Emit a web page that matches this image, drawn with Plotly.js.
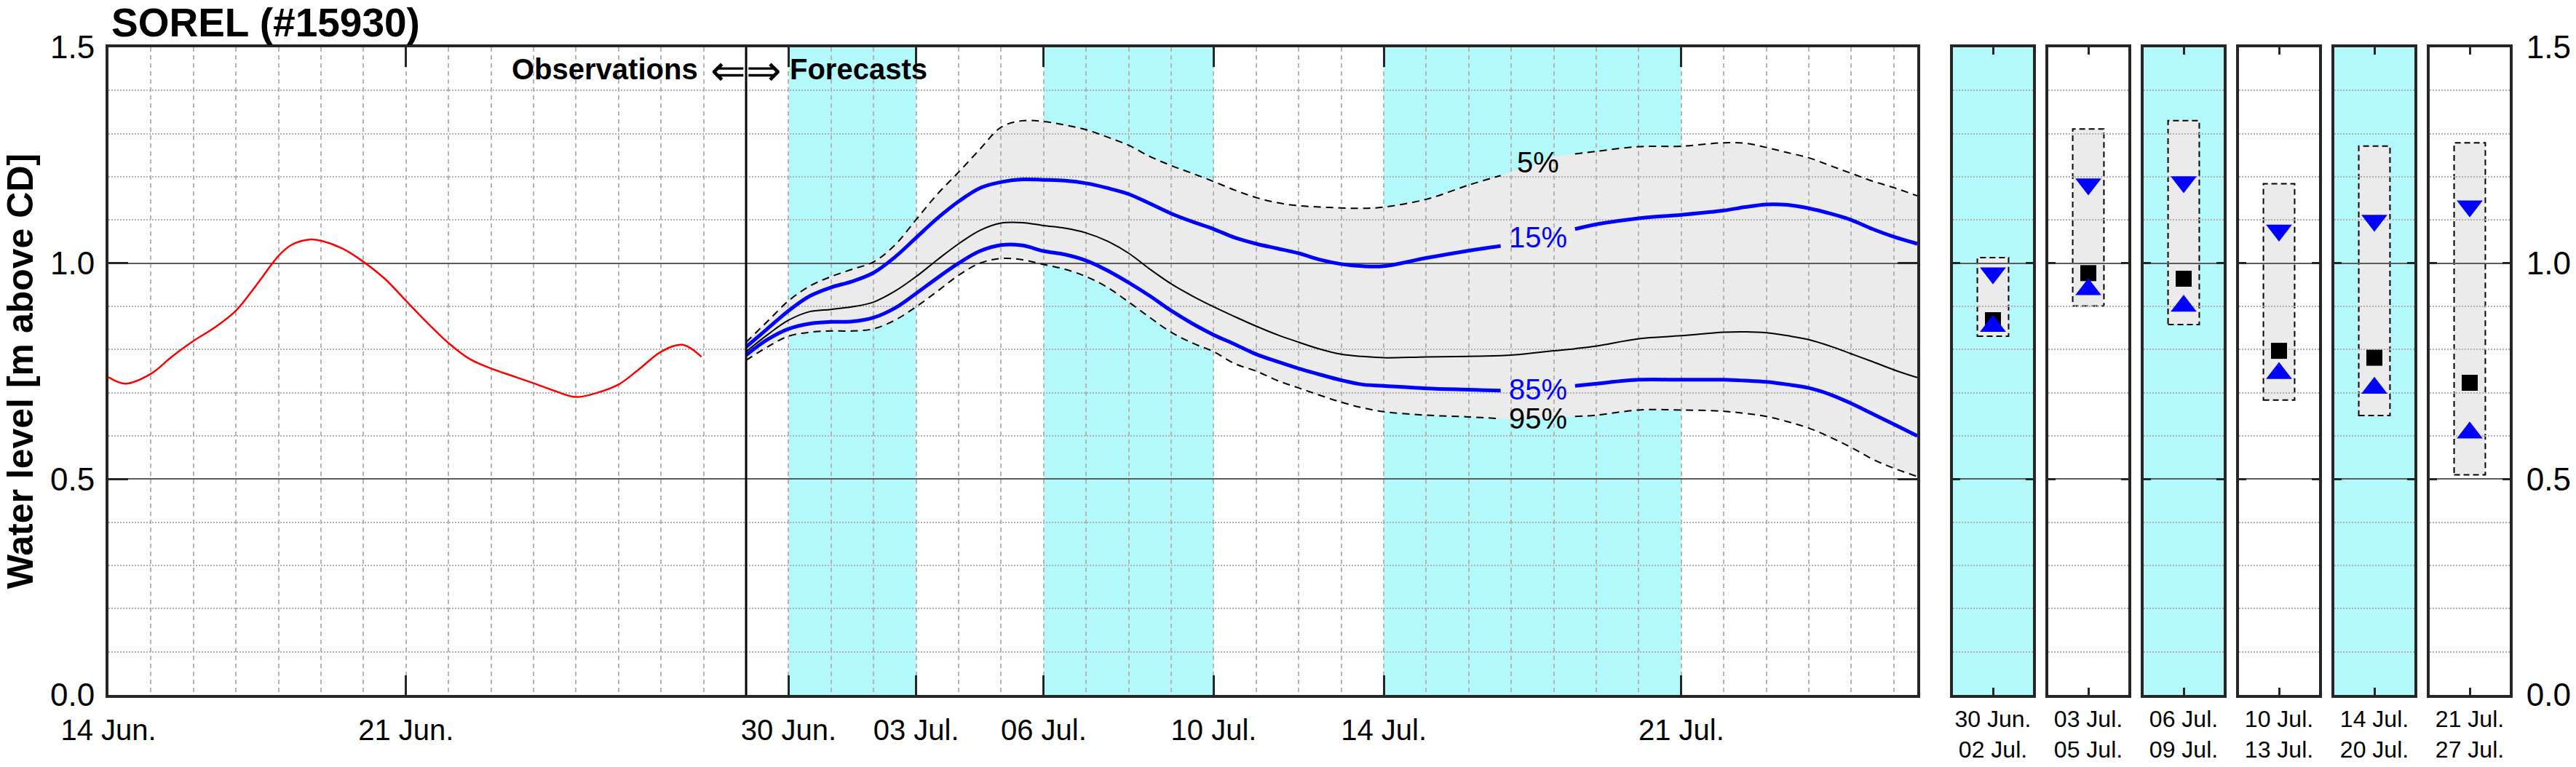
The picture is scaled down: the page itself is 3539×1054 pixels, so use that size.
<!DOCTYPE html>
<html>
<head>
<meta charset="utf-8">
<script src="https://cdn.plot.ly/plotly-3.0.1.min.js"></script>
<style>
  html, body { margin: 0; padding: 0; background: #fff; }
  #chart { width: 3539px; height: 1054px; }
</style>
</head>
<body>
<div id="chart"></div>
<script>
// time is counted in days from 14 Jun. 00:00
const obsDay = [0, 0.4, 1, 1.5, 2, 2.5, 3, 3.5, 4, 4.3, 4.75, 5, 5.5, 6, 6.5, 7, 7.5, 8, 8.5, 9,
                9.5, 10, 10.5, 11, 11.5, 12, 12.5, 13, 13.5, 13.95];
const obsLevel = [0.736, 0.721, 0.744, 0.784, 0.820, 0.851, 0.890, 0.952, 1.017, 1.042, 1.055, 1.052, 1.034, 1.003, 0.964, 0.913, 0.862, 0.815, 0.778, 0.756,
                  0.739, 0.722, 0.704, 0.690, 0.700, 0.719, 0.756, 0.795, 0.811, 0.783];

const fcDay = [15, 15.5, 16, 16.5, 17, 17.5, 18, 18.5, 19, 19.5,
               20, 20.5, 21, 21.5, 22, 22.5, 23, 23.5, 24, 24.5,
               25, 25.5, 26, 26.5, 27, 27.5, 28, 28.5, 29, 29.5,
               30, 31, 32, 32.75, 33, 34, 34.5, 35, 36, 37, 38,
               38.5, 39, 39.5, 40, 40.5, 41, 41.5, 42, 42.55];
const q05 = [0.817, 0.865, 0.913, 0.947, 0.969, 0.986, 1.003, 1.042, 1.101, 1.160,
             1.211, 1.264, 1.315, 1.330, 1.328, 1.320, 1.309, 1.292, 1.273, 1.247,
             1.226, 1.208, 1.189, 1.169, 1.152, 1.140, 1.133, 1.130, 1.128, 1.127,
             1.130, 1.148, 1.181, 1.203, 1.211, 1.247, 1.253, 1.259, 1.270, 1.271, 1.279,
             1.278, 1.268, 1.256, 1.244, 1.226, 1.208, 1.190, 1.175, 1.156];
const q15 = [0.806, 0.848, 0.890, 0.924, 0.944, 0.958, 0.978, 1.014, 1.059, 1.104,
             1.143, 1.174, 1.188, 1.194, 1.193, 1.191, 1.185, 1.174, 1.160, 1.138,
             1.115, 1.096, 1.079, 1.059, 1.045, 1.034, 1.023, 1.008, 0.998, 0.993,
             0.993, 1.012, 1.029, 1.040, 1.045, 1.068, 1.079, 1.090, 1.104, 1.112, 1.122,
             1.130, 1.136, 1.135, 1.127, 1.115, 1.100, 1.079, 1.061, 1.045];
const q50 = [0.795, 0.834, 0.868, 0.888, 0.893, 0.899, 0.910, 0.935, 0.969, 1.008,
             1.045, 1.076, 1.093, 1.094, 1.087, 1.081, 1.070, 1.051, 1.023, 0.986,
             0.952, 0.924, 0.899, 0.876, 0.854, 0.834, 0.817, 0.801, 0.789, 0.784,
             0.781, 0.783, 0.784, 0.786, 0.787, 0.797, 0.802, 0.808, 0.825, 0.832, 0.840,
             0.841, 0.839, 0.832, 0.823, 0.808, 0.790, 0.772, 0.753, 0.735];
const q85 = [0.787, 0.823, 0.848, 0.860, 0.864, 0.865, 0.874, 0.896, 0.930, 0.966,
             1.000, 1.028, 1.042, 1.041, 1.028, 1.020, 1.006, 0.983, 0.955, 0.924,
             0.890, 0.860, 0.834, 0.812, 0.789, 0.772, 0.756, 0.742, 0.729, 0.719,
             0.716, 0.710, 0.707, 0.705, 0.704, 0.711, 0.716, 0.721, 0.730, 0.730, 0.730,
             0.728, 0.725, 0.719, 0.711, 0.696, 0.675, 0.651, 0.627, 0.600];
const q95 = [0.775, 0.806, 0.831, 0.840, 0.843, 0.843, 0.848, 0.868, 0.899, 0.935,
             0.972, 1.000, 1.011, 1.008, 0.997, 0.986, 0.969, 0.944, 0.910, 0.874,
             0.840, 0.815, 0.795, 0.767, 0.750, 0.728, 0.711, 0.694, 0.678, 0.665,
             0.656, 0.648, 0.644, 0.640, 0.639, 0.642, 0.645, 0.648, 0.660, 0.660, 0.657,
             0.652, 0.645, 0.633, 0.618, 0.597, 0.573, 0.546, 0.525, 0.506];

const tickDay = [0, 7, 16, 19, 22, 26, 30, 37];
const tickText = ['14 Jun.', '21 Jun.', '30 Jun.', '03 Jul.', '06 Jul.', '10 Jul.', '14 Jul.', '21 Jul.'];
const bandStart = [16, 22, 30];
const bandEnd = [19, 26, 37];

const periodStart = ['30 Jun.', '03 Jul.', '06 Jul.', '10 Jul.', '14 Jul.', '21 Jul.'];
const periodEnd = ['02 Jul.', '05 Jul.', '09 Jul.', '13 Jul.', '20 Jul.', '27 Jul.'];
const periodShaded = [true, false, true, false, true, false];
const pQ05 = [1.013, 1.311, 1.330, 1.184, 1.271, 1.279];
const pQ15 = [0.977, 1.183, 1.188, 1.076, 1.099, 1.132];
const pQ50 = [0.868, 0.977, 0.964, 0.797, 0.781, 0.723];
const pQ85 = [0.854, 0.939, 0.901, 0.745, 0.711, 0.607];
const pQ95 = [0.831, 0.901, 0.858, 0.683, 0.647, 0.510];

const yTicks = [0, 0.5, 1.0, 1.5];

const W = 3539, H = 1054;
const FONT = 'Liberation Sans, Arial, Helvetica, sans-serif';
const INK = '#262626';
const CYAN = '#b3f8fa';
const BAND = '#ebebeb';
const BLUE = '#0000ff';
const px = v => v / W;

// label gap on the percentile lines
const gapLo = 32.75, gapHi = 34.5, labelDay = 33.63;
const withGap = vals => vals.map((v, i) => (fcDay[i] > gapLo && fcDay[i] < gapHi) ? null : v);
function valueAt(vals, d) {
    for (let i = 1; i < fcDay.length; i++) {
        if (fcDay[i] >= d) {
            const t = (d - fcDay[i - 1]) / (fcDay[i] - fcDay[i - 1]);
            return vals[i - 1] + t * (vals[i] - vals[i - 1]);
        }
    }
    return vals[vals.length - 1];
}

const traces = [
    {x: obsDay, y: obsLevel, mode: 'lines', line: {color: '#ff0000', width: 2.5, shape: 'spline'}},
    {x: fcDay, y: withGap(q05), mode: 'lines', line: {color: '#000', width: 2, dash: '10px,7px', shape: 'spline'}},
    {x: fcDay, y: withGap(q95), mode: 'lines', line: {color: '#000', width: 2, dash: '10px,7px', shape: 'spline'}},
    {x: fcDay, y: q50, mode: 'lines', line: {color: '#000', width: 2, shape: 'spline'}},
    {x: fcDay, y: withGap(q15), mode: 'lines', line: {color: BLUE, width: 5, shape: 'spline'}},
    {x: fcDay, y: withGap(q85), mode: 'lines', line: {color: BLUE, width: 5, shape: 'spline'}}
];

// forecast envelope 5%-95%, drawn under the grid
let envPath = 'M' + fcDay.map((d, i) => d + ',' + q05[i]).join('L');
for (let i = fcDay.length - 1; i >= 0; i--) envPath += 'L' + fcDay[i] + ',' + q95[i];
envPath += 'Z';

const shapes = [];
bandStart.forEach((s, i) => {
    shapes.push({type: 'rect', xref: 'x', yref: 'y domain', x0: s, x1: bandEnd[i], y0: 0, y1: 1,
                 fillcolor: CYAN, line: {width: 0}, layer: 'below'});
});
shapes.push({type: 'path', xref: 'x', yref: 'y', path: envPath, fillcolor: BAND, line: {width: 0}, layer: 'below'});
shapes.push({type: 'line', xref: 'x', yref: 'y domain', x0: fcDay[0], x1: fcDay[0], y0: 0, y1: 1,
             line: {color: '#000', width: 3}, layer: 'above'});

function yAxis(extra) {
    return Object.assign({
        range: [0, 1.5], tickmode: 'array', tickvals: yTicks, ticktext: yTicks.map(v => v.toFixed(1)),
        ticks: 'inside', tickwidth: 3, tickcolor: INK, showline: true, linewidth: 4, linecolor: INK,
        mirror: 'ticks', zeroline: false, fixedrange: true,
        showgrid: true, gridcolor: '#5c5c5c', gridwidth: 2,
        minor: {tickmode: 'linear', tick0: 0, dtick: 0.1, showgrid: true, gridcolor: '#b0b0b0',
                gridwidth: 2, griddash: '2px,2px'},
        tickfont: {size: 44}
    }, extra);
}

const layout = {
    width: W, height: H,
    margin: {l: 0, r: 0, t: 65, b: 99},
    paper_bgcolor: '#fff', plot_bgcolor: '#fff',
    showlegend: false,
    font: {family: FONT, color: '#000'},
    title: {text: 'SOREL (#15930)', font: {size: 55, weight: 'bold'},
            x: px(153), xanchor: 'left', y: 1 - 31 / H, yanchor: 'middle'},
    xaxis: {
        domain: [px(149), px(2634)], anchor: 'y', range: [0, 42.55],
        tickmode: 'array', tickvals: tickDay, ticktext: tickText,
        ticks: 'inside', ticklen: 27, tickwidth: 3, tickcolor: INK,
        showline: true, linewidth: 4, linecolor: INK, mirror: 'ticks',
        showgrid: true, gridcolor: '#b4b4b4', gridwidth: 2, griddash: '6px,5px',
        minor: {tickmode: 'linear', tick0: 0, dtick: 1, showgrid: true, gridcolor: '#b4b4b4',
                gridwidth: 2, griddash: '6px,5px'},
        zeroline: false, fixedrange: true, tickfont: {size: 40}, ticklabelstandoff: 10
    },
    yaxis: yAxis({domain: [0, 1], anchor: 'x', ticklen: 27, ticklabelstandoff: 6,
                  title: {text: 'Water level [m above CD]', font: {size: 50, weight: 'bold'}, standoff: 20}}),
    shapes: shapes,
    annotations: [
        {xref: 'x', yref: 'y', x: fcDay[0] - 1.1, y: 1.45, xanchor: 'right', yanchor: 'middle', showarrow: false,
         text: 'Observations', font: {size: 40, weight: 'bold'}},
        {xref: 'x', yref: 'y', x: fcDay[0], y: 1.447, xanchor: 'center', yanchor: 'middle', showarrow: false,
         text: '\u21d0\u21d2', font: {size: 58}},
        {xref: 'x', yref: 'y', x: fcDay[0] + 1.0, y: 1.45, xanchor: 'left', yanchor: 'middle', showarrow: false,
         text: 'Forecasts', font: {size: 40, weight: 'bold'}}
    ]
};

const labelText = ['5%', '15%', '85%', '95%'];
const labelSeries = [q05, q15, q85, q95];
const labelColor = ['#000', BLUE, BLUE, '#000'];
labelText.forEach((t, i) => {
    layout.annotations.push({xref: 'x', yref: 'y', x: labelDay, y: valueAt(labelSeries[i], labelDay),
                             xanchor: 'center', yanchor: 'middle', showarrow: false, text: t,
                             font: {size: 40, color: labelColor[i]}});
});

// period summary panels
const panelLeft = 2683, panelWidth = 110, panelStep = 131, boxHalf = 0.39;
periodStart.forEach((label, k) => {
    const n = k + 2;
    const left = panelLeft + k * panelStep;
    const last = k === periodStart.length - 1;
    layout['xaxis' + n] = {
        domain: [px(left), px(left + panelWidth)], anchor: 'y' + n, range: [-1, 1],
        tickmode: 'array', tickvals: [0], ticktext: [label + '<br>' + periodEnd[k]],
        ticks: 'inside', ticklen: 10, tickwidth: 3, tickcolor: INK,
        showline: true, linewidth: 4, linecolor: INK, mirror: 'ticks',
        showgrid: false, zeroline: false, fixedrange: true, tickfont: {size: 32}, ticklabelstandoff: 2
    };
    layout['yaxis' + n] = yAxis({domain: [0, 1], anchor: 'x' + n, ticklen: 10,
                                 showticklabels: last, side: last ? 'right' : 'left', ticklabelstandoff: 10});
    if (periodShaded[k]) {
        shapes.push({type: 'rect', xref: 'x' + n + ' domain', yref: 'y' + n + ' domain', x0: 0, x1: 1, y0: 0, y1: 1,
                     fillcolor: CYAN, line: {width: 0}, layer: 'below'});
    }
    shapes.push({type: 'rect', xref: 'x' + n, yref: 'y' + n, x0: -boxHalf, x1: boxHalf, y0: pQ95[k], y1: pQ05[k],
                 fillcolor: BAND, line: {color: '#000', width: 2, dash: '8px,5px'}, layer: 'below'});
    const ax = {xaxis: 'x' + n, yaxis: 'y' + n, mode: 'markers', x: [0]};
    traces.push(Object.assign({}, ax, {y: [pQ50[k]], marker: {symbol: 'square', size: 22, color: '#000'}}));
    traces.push(Object.assign({}, ax, {y: [pQ15[k]], marker: {symbol: 'triangle-down', size: 31, color: BLUE}}));
    traces.push(Object.assign({}, ax, {y: [pQ85[k]], marker: {symbol: 'triangle-up', size: 31, color: BLUE}}));
});

Plotly.newPlot('chart', traces, layout, {staticPlot: true, displayModeBar: false});
</script>
</body>
</html>
